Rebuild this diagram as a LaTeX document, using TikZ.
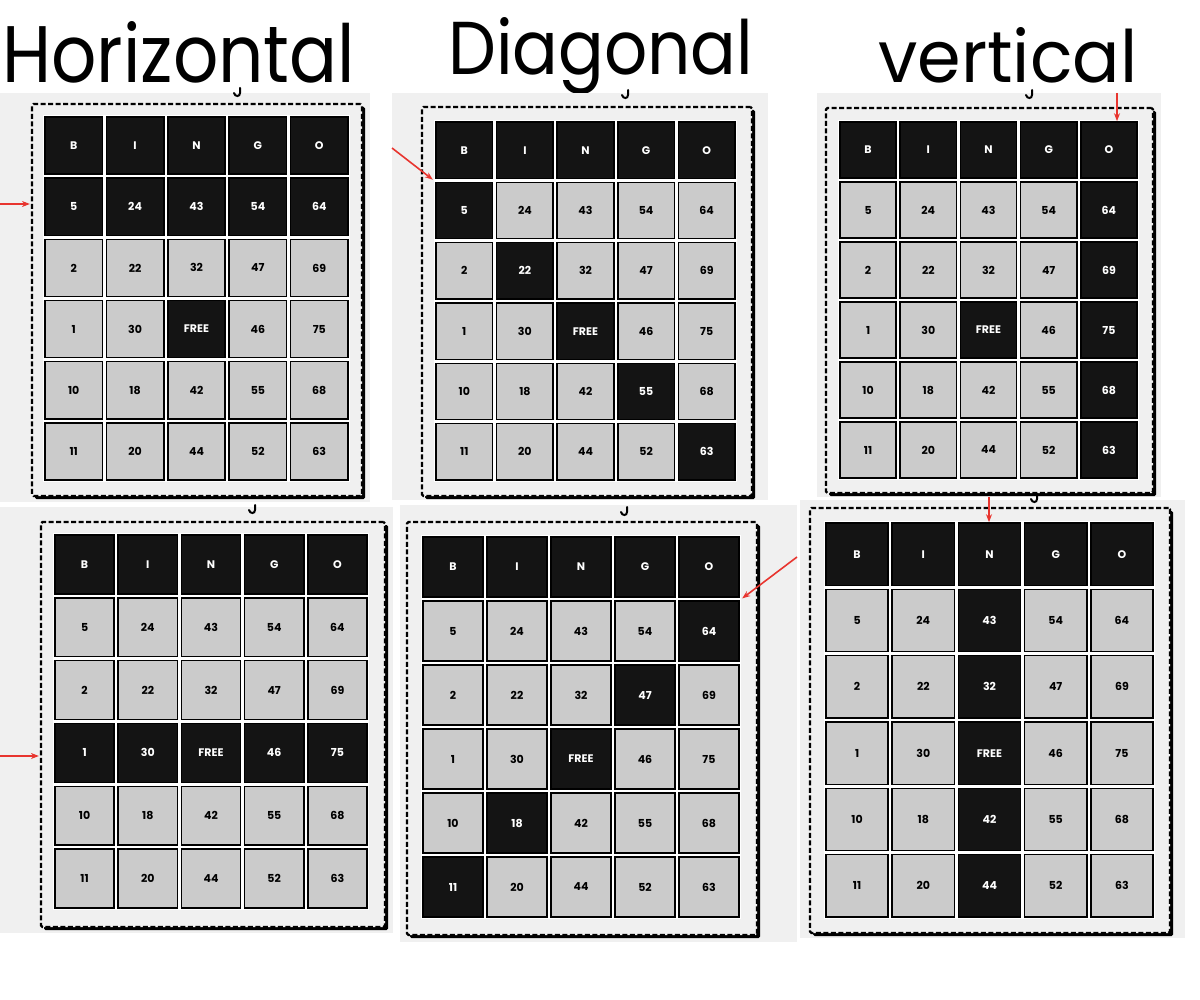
\documentclass[tikz,border=0pt]{standalone}
\usepackage{fontspec}
\usepackage{graphicx}
\usetikzlibrary{arrows.meta,shadows}
\newfontfamily\titlefont{Poppins}
\newfontfamily\cellfontfam{Poppins}
\definecolor{panelbg}{HTML}{F0F0F0}
\definecolor{cellgrey}{HTML}{CBCBCB}
\definecolor{cellblack}{HTML}{141414}
\definecolor{arrowred}{HTML}{E8352F}
\tikzset{
  cellbase/.style={rectangle, line width=1.6pt, inner sep=0pt, font=\cellfontfam\bfseries\fontsize{11}{11}\selectfont},
  plaincell/.style={cellbase, fill=cellgrey, draw=black, text=black},
  markcell/.style={cellbase, fill=cellblack, draw=black, text=white},
  dashbox/.style={rectangle, draw=black, line width=2.2pt, dash pattern=on 5pt off 2.5pt, fill=panelbg, rounded corners=1.5pt, inner sep=0pt,
     drop shadow={shadow xshift=3pt, shadow yshift=-3pt, fill=black, opacity=1}},
  redarrow/.style={draw=arrowred, line width=1.6pt, -{Stealth[length=8pt,width=6pt]}},
  hookline/.style={line width=2pt, line cap=round, draw=black},
  titlenode/.style={anchor=base west, inner sep=0pt},
}
\def\cgap{4}
\makeatletter
\newcommand\drawgrid[6]{%
  \pgfmathsetmacro\px{(#4-#2+\cgap)/5}%
  \pgfmathsetmacro\py{(#5-#3+\cgap)/6}%
  \pgfmathsetmacro\cw{\px-\cgap}%
  \pgfmathsetmacro\ch{\py-\cgap}%
  \fill[white] (#2-2,#3-2) rectangle (#4+2,#5+2);
  \foreach \row [count=\r from 0] in {{B,I,N,G,O},{5,24,43,54,64},{2,22,32,47,69},{1,30,FREE,46,75},{10,18,42,55,68},{11,20,44,52,63}}{%
    \foreach \t [count=\c from 0] in \row {%
      \edef\key{,\r-\c,}%
      \expandafter\in@\expandafter{\key}{,#6,}%
      \ifnum\r=0 \in@true\fi
      \ifin@\def\cst{markcell}\else\def\cst{plaincell}\fi
      \node[\cst, minimum width=\cw pt, minimum height=\ch pt] (#1-\r-\c) at ({#2+\c*\px+\cw/2},{#3+\r*\py+\ch/2}) {\t};
    }%
  }%
}
\makeatother
\newcommand\hookat[2]{%
  \draw[hookline] (#1+2,#2-5) -- (#1+2,#2) .. controls (#1+2,#2+4) and (#1-3,#2+4) .. (#1-4,#2);
}
\begin{document}
\begin{tikzpicture}[x=1pt,y=-1pt]
\useasboundingbox (0,0) rectangle (1200,1000);
\fill[white] (0,0) rectangle (1200,1000);

% titles
\node[titlenode] (t1) at (2,83) {\resizebox{353pt}{61pt}{\titlefont Horizontal}};
\node[titlenode] (t2) at (448,75) {\resizebox{305pt}{57pt}{\titlefont Diagonal}};
\node[titlenode] (t3) at (878,83) {\resizebox{259pt}{55pt}{\titlefont vertical}};

% panel backgrounds
\fill[panelbg] (0,93) rectangle (370,502);
\fill[panelbg] (392,93) rectangle (768,500);
\fill[panelbg] (817,93) rectangle (1161,497);
\fill[panelbg] (0,507) rectangle (393,933);
\fill[panelbg] (400,505) rectangle (797,942);
\fill[panelbg] (800,500) rectangle (1185,938);

% dashed frames
\node[dashbox, minimum width=330pt, minimum height=392pt] (p1b) at (197,300) {};
\node[dashbox, minimum width=330pt, minimum height=389pt] (p2b) at (587,301.5) {};
\node[dashbox, minimum width=327pt, minimum height=385pt] (p3b) at (989.5,300.5) {};
\node[dashbox, minimum width=344pt, minimum height=405pt] (p4b) at (213,724.5) {};
\node[dashbox, minimum width=350pt, minimum height=413pt] (p5b) at (582,728.5) {};
\node[dashbox, minimum width=360pt, minimum height=425pt] (p6b) at (990,720.5) {};

% grids
\drawgrid{p1}{45}{117}{348}{480}{1-0,1-1,1-2,1-3,1-4,3-2}
\drawgrid{p2}{436}{122}{735}{480}{1-0,2-1,3-2,4-3,5-4}
\drawgrid{p3}{840}{122}{1137}{478}{1-4,2-4,3-4,4-4,5-4,3-2}
\drawgrid{p4}{55}{535}{367}{908}{3-0,3-1,3-2,3-3,3-4}
\drawgrid{p5}{423}{537}{739}{917}{1-4,2-3,3-2,4-1,5-0}
\drawgrid{p6}{826}{523}{1153}{917}{1-2,2-2,3-2,4-2,5-2}

% hook fragments
\hookat{238}{93}
\hookat{626}{95}
\hookat{1030}{95}
\hookat{253}{510}
\hookat{625}{512}
\hookat{1035}{499}

% arrows
\coordinate (a1s) at (0,204);
\coordinate (a2s) at (392,148);
\coordinate (a3s) at (1117,93);
\coordinate (a4s) at (0,756);
\coordinate (a5s) at (797,557);
\coordinate (a6s) at (989,497);
\draw[redarrow, shorten >=1pt] (a1s) -- (p1b.west |- a1s);
\draw[redarrow, shorten >=3pt] (a2s) -- (p2-1-0.north west);
\draw[redarrow] (a3s) -- (a3s |- p3-0-4.north);
\draw[redarrow, shorten >=1pt] (a4s) -- (p4b.west |- a4s);
\draw[redarrow, shorten >=3pt] (a5s) -- (p5-1-4.north east);
\draw[redarrow] (a6s) -- (a6s |- p6-0-2.north);
\end{tikzpicture}
\end{document}
